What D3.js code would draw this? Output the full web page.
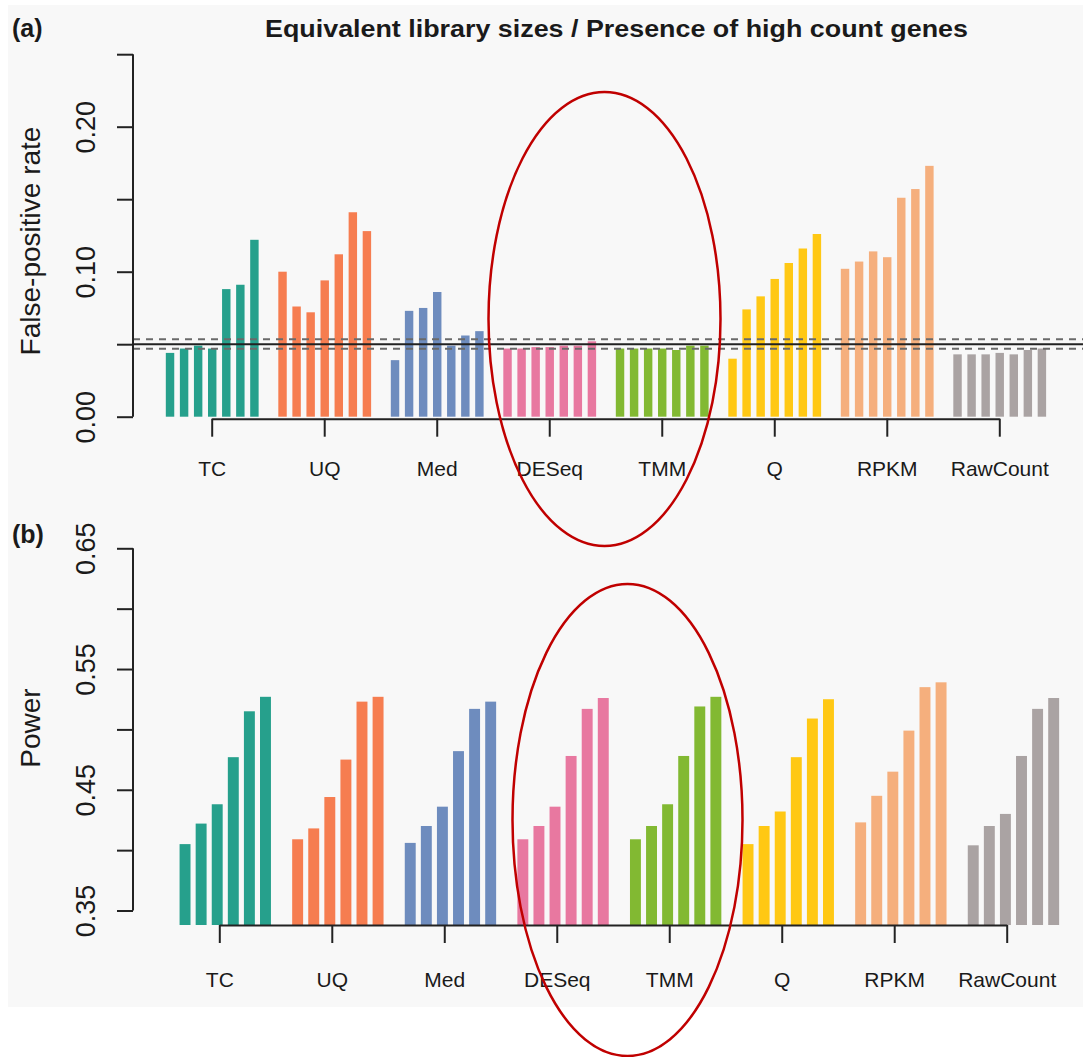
<!DOCTYPE html>
<html>
<head>
<meta charset="utf-8">
<script src="https://cdn.jsdelivr.net/npm/d3@7"></script>
<style>
  body { margin: 0; background: #fff; }
  svg text { font-family: "Liberation Sans", Arial, Helvetica, sans-serif; fill: #1a1a1a; }
</style>
</head>
<body>
<div id="chart"></div>
<script>
// normalisation methods, one bar group each
const methods = ["TC", "UQ", "Med", "DESeq", "TMM", "Q", "RPKM", "RawCount"];
const methodColors = ["#26a08c", "#f67d50", "#6e8cbe", "#e878a0", "#82b932", "#ffc814", "#f5af7d", "#aaa3a3"];

// (a) false-positive rate, 7 simulation settings per method
const fpr = [
  [0.044, 0.047, 0.049, 0.047, 0.088, 0.091, 0.122],   // TC
  [0.100, 0.076, 0.072, 0.094, 0.112, 0.141, 0.128],   // UQ
  [0.039, 0.073, 0.075, 0.086, 0.049, 0.056, 0.059],   // Med
  [0.047, 0.047, 0.048, 0.048, 0.049, 0.049, 0.052],   // DESeq
  [0.047, 0.047, 0.047, 0.047, 0.046, 0.049, 0.049],   // TMM
  [0.040, 0.074, 0.083, 0.095, 0.106, 0.116, 0.126],   // Q
  [0.102, 0.107, 0.114, 0.110, 0.151, 0.157, 0.173],   // RPKM
  [0.043, 0.043, 0.043, 0.044, 0.043, 0.046, 0.047]    // RawCount
];
const fprTicks = [0, 0.05, 0.10, 0.15, 0.20, 0.25];
const fprTickLabels = ["0.00", "", "0.10", "", "0.20", ""];
const alphaLevel = 0.05;
const alphaBand = [0.0469, 0.0534];

// (b) power, 6 simulation settings per method
const power = [
  [0.405, 0.422, 0.438, 0.477, 0.515, 0.527],   // TC
  [0.409, 0.418, 0.444, 0.475, 0.523, 0.527],   // UQ
  [0.406, 0.420, 0.436, 0.482, 0.517, 0.523],   // Med
  [0.409, 0.420, 0.436, 0.478, 0.517, 0.526],   // DESeq
  [0.409, 0.420, 0.438, 0.478, 0.519, 0.527],   // TMM
  [0.405, 0.420, 0.432, 0.477, 0.509, 0.525],   // Q
  [0.423, 0.445, 0.465, 0.499, 0.535, 0.539],   // RPKM
  [0.404, 0.420, 0.430, 0.478, 0.517, 0.526]    // RawCount
];
const powerTicks = [0.35, 0.40, 0.45, 0.50, 0.55, 0.60, 0.65];
const powerTickLabels = ["0.35", "", "0.45", "", "0.55", "", "0.65"];

const W = 1083, H = 1057;
const axisLeftX = 133;

const svg = d3.select("#chart").append("svg")
  .attr("width", W)
  .attr("height", H);

// light panel background
svg.append("rect")
  .attr("x", 8).attr("y", 5)
  .attr("width", W - 8).attr("height", 1002)
  .attr("fill", "#f8f8f8");

const panels = [
  {
    tag: "(a)", tagY: 37,
    values: fpr, ticks: fprTicks, tickLabels: fprTickLabels,
    yDomain: [0, 0.25], yRange: [416.7, 54.2], base: 0,
    yTitle: "False-positive rate", yTitleCenter: 241,
    groupLeft: 163, groupStep: 112.5, slots: 8, barFrac: 0.6,
    axisY: 418.7, tickRange: [211.7, 999.3], labelY: 476
  },
  {
    tag: "(b)", tagY: 543,
    values: power, ticks: powerTicks, tickLabels: powerTickLabels,
    yDomain: [0.338, 0.65], yRange: [925, 548.3], base: 0.338,
    yTitle: "Power", yTitleCenter: 728,
    groupLeft: 177, groupStep: 112.6, slots: 7, barFrac: 0.68,
    axisY: 925, tickRange: [219.3, 1006.7], labelY: 987
  }
];

panels.forEach((p, pi) => {
  const g = svg.append("g");
  const y = d3.scaleLinear().domain(p.yDomain).range(p.yRange);

  const pad = 1 / p.slots;
  const x0 = d3.scaleBand()
    .domain(methods)
    .range([p.groupLeft, p.groupLeft + p.groupStep * (methods.length - pad)])
    .paddingInner(pad)
    .paddingOuter(0);
  const nBars = p.values[0].length;
  const x1 = d3.scaleBand()
    .domain(d3.range(nBars))
    .range([0, x0.bandwidth()])
    .paddingInner(1 - p.barFrac)
    .paddingOuter((1 - p.barFrac) / 2);

  // bars
  methods.forEach((m, mi) => {
    g.append("g")
      .attr("transform", `translate(${x0(m)},0)`)
      .selectAll("rect")
      .data(p.values[mi])
      .join("rect")
      .attr("x", (d, i) => x1(i))
      .attr("width", x1.bandwidth())
      .attr("y", d => y(d))
      .attr("height", d => y(p.base) - y(d))
      .attr("fill", methodColors[mi]);
  });

  // nominal level and its band, drawn over the bars
  if (pi === 0) {
    g.append("line")
      .attr("x1", axisLeftX).attr("x2", W)
      .attr("y1", y(alphaLevel)).attr("y2", y(alphaLevel))
      .attr("stroke", "#222").attr("stroke-width", 2);
    alphaBand.forEach(v => {
      g.append("line")
        .attr("x1", axisLeftX).attr("x2", W)
        .attr("y1", y(v)).attr("y2", y(v))
        .attr("stroke", "#6a6a6a").attr("stroke-width", 2)
        .attr("stroke-dasharray", "7,6");
    });
  }

  // y axis, R style: line spans first to last tick
  const yAxis = d3.axisLeft(y)
    .tickValues(p.ticks)
    .tickSize(16)
    .tickFormat((d, i) => p.tickLabels[i]);
  const ya = g.append("g")
    .attr("transform", `translate(${axisLeftX},0)`)
    .call(yAxis);
  ya.select(".domain").remove();
  ya.append("line")
    .attr("y1", y(p.ticks[0])).attr("y2", y(p.ticks[p.ticks.length - 1]))
    .attr("stroke", "#222").attr("stroke-width", 2);
  ya.selectAll(".tick line").attr("stroke", "#222").attr("stroke-width", 2);
  ya.selectAll(".tick text")
    .attr("x", null).attr("dy", null)
    .attr("transform", "translate(-38,0) rotate(-90)")
    .attr("text-anchor", "middle")
    .style("font-size", "27px")
    .style("font-family", "'Liberation Sans', Arial, sans-serif")
    .attr("fill", "#1a1a1a");

  // y title
  g.append("text")
    .attr("transform", `translate(40,${p.yTitleCenter}) rotate(-90)`)
    .attr("text-anchor", "middle")
    .style("font-size", "28px")
    .text(p.yTitle);

  // x axis at its own tick positions
  const xt = d3.scalePoint().domain(methods).range(p.tickRange);
  const xa = g.append("g")
    .attr("transform", `translate(0,${p.axisY})`)
    .call(d3.axisBottom(xt).tickSize(18).tickSizeOuter(0));
  xa.select(".domain").attr("stroke", "#222").attr("stroke-width", 2);
  xa.selectAll(".tick line").attr("stroke", "#222").attr("stroke-width", 2);
  xa.selectAll(".tick text")
    .attr("y", p.labelY - p.axisY).attr("dy", null)
    .style("font-size", "21px")
    .style("font-family", "'Liberation Sans', Arial, sans-serif")
    .attr("fill", "#1a1a1a");

  // panel tag
  svg.append("text")
    .attr("x", 12).attr("y", p.tagY)
    .style("font-size", "25px")
    .style("font-weight", "bold")
    .text(p.tag);
});

// title
svg.append("text")
  .attr("x", 616.5).attr("y", 37)
  .attr("text-anchor", "middle")
  .attr("textLength", 703)
  .attr("lengthAdjust", "spacingAndGlyphs")
  .style("font-size", "24px")
  .style("font-weight", "bold")
  .text("Equivalent library sizes / Presence of high count genes");

// highlight rings around DESeq and TMM
const rings = [
  { cx: 604.5, cy: 319, rx: 116, ry: 227 },
  { cx: 627.5, cy: 820, rx: 115, ry: 236 }
];
svg.selectAll("ellipse")
  .data(rings)
  .join("ellipse")
  .attr("cx", d => d.cx).attr("cy", d => d.cy)
  .attr("rx", d => d.rx).attr("ry", d => d.ry)
  .attr("fill", "none")
  .attr("stroke", "#c00000")
  .attr("stroke-width", 2.5);
</script>
</body>
</html>
